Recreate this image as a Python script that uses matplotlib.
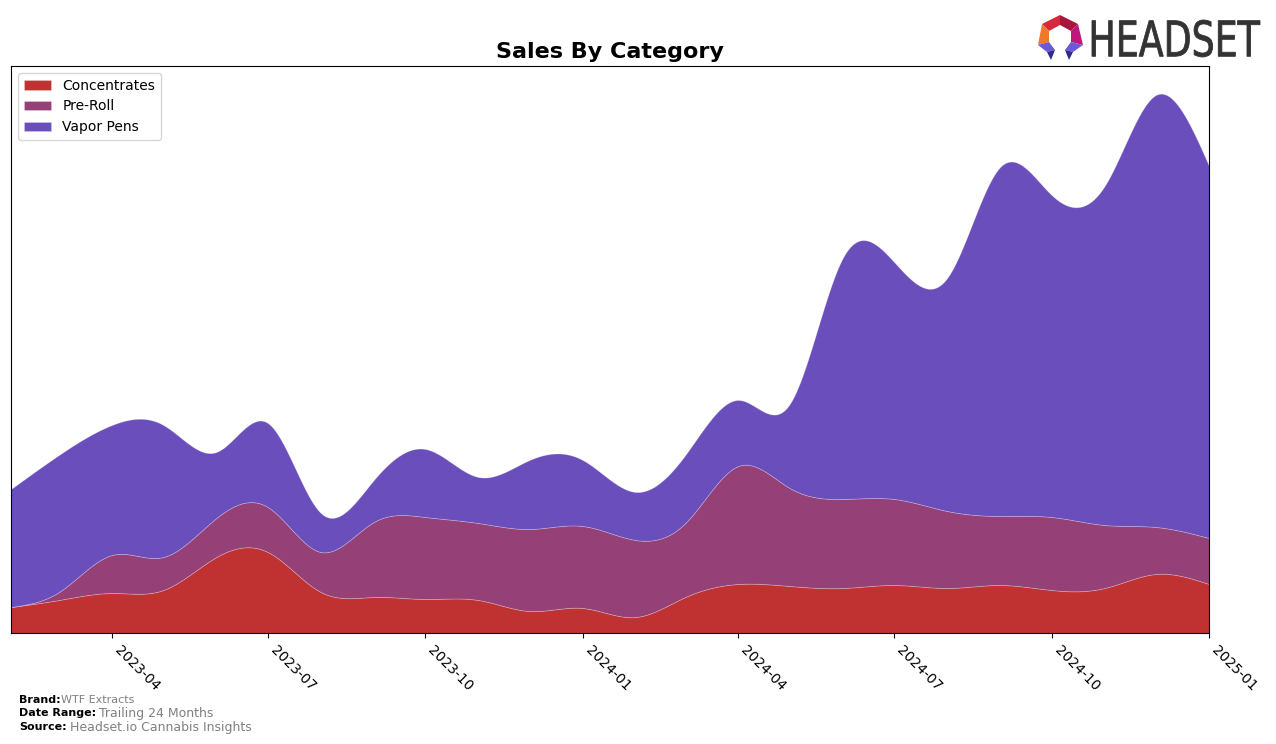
import numpy as np
import pandas as pd
import matplotlib
matplotlib.use("Agg")
import matplotlib.pyplot as plt
import matplotlib.dates as mdates
from matplotlib.textpath import TextPath
from matplotlib.patches import PathPatch, Polygon
from matplotlib.font_manager import FontProperties
from matplotlib.transforms import Affine2D

# ---------------- data ----------------
months = pd.date_range("2023-02-01", "2025-01-01", freq="MS")
concentrates = [26, 33, 40, 43, 76, 81, 41, 36, 34, 33, 22, 25, 16, 36, 49, 47, 45, 48, 45, 48, 43, 45, 59, 49]
preroll_top = [26, 41, 78, 76, 115, 126, 81, 111, 116, 110, 104, 107, 93, 110, 167, 145, 134, 134, 122, 117, 116, 108, 106, 95]
vapor_top = [144, 178, 208, 208, 181, 210, 120, 153, 184, 156, 173, 173, 141, 178, 233, 229, 375, 371, 355, 466, 438, 447, 538, 467]
pre_roll = [p - c for p, c in zip(preroll_top, concentrates)]
vapor_pens = [v - p for v, p in zip(vapor_top, preroll_top)]
labels = ["Concentrates", "Pre-Roll", "Vapor Pens"]
colors = ["#C03232", "#964078", "#6A4EBC"]


def natural_spline(x, y, xs):
    x = np.asarray(x, float)
    y = np.asarray(y, float)
    n = len(x)
    h = np.diff(x)
    A = np.zeros((n, n))
    b = np.zeros(n)
    A[0, 0] = 1
    A[-1, -1] = 1
    for i in range(1, n - 1):
        A[i, i - 1] = h[i - 1]
        A[i, i] = 2 * (h[i - 1] + h[i])
        A[i, i + 1] = h[i]
        b[i] = 3 * ((y[i + 1] - y[i]) / h[i] - (y[i] - y[i - 1]) / h[i - 1])
    c = np.linalg.solve(A, b)
    bb = np.zeros(n - 1)
    d = np.zeros(n - 1)
    for i in range(n - 1):
        bb[i] = (y[i + 1] - y[i]) / h[i] - h[i] * (2 * c[i] + c[i + 1]) / 3
        d[i] = (c[i + 1] - c[i]) / (3 * h[i])
    idx = np.clip(np.searchsorted(x, xs) - 1, 0, n - 2)
    dx = xs - x[idx]
    return y[idx] + bb[idx] * dx + c[idx] * dx ** 2 + d[idx] * dx ** 3


xnum = mdates.date2num(months.to_pydatetime())
xs = np.linspace(xnum[0], xnum[-1], 1500)
series = [np.clip(natural_spline(xnum, s, xs), 0, None) for s in (concentrates, pre_roll, vapor_pens)]

# ---------------- figure ----------------
W, H = 1276, 744
fig = plt.figure(figsize=(W / 100, H / 100), dpi=100)
ax = fig.add_axes([11 / W, 1 - 633 / H, (1209 - 11) / W, (633 - 66) / H])

polys = ax.stackplot(xs, *series, labels=labels, colors=colors)
for p in polys:
    p.set_edgecolor((1, 1, 1, 0.25))
    p.set_linewidth(0.6)

ax.set_xlim(xnum[0], xnum[-1])
ax.set_ylim(0, 567)
ax.set_yticks([])
ticks = pd.date_range("2023-04-01", "2025-01-01", freq="3MS")
ax.set_xticks(mdates.date2num(ticks.to_pydatetime()))
ax.set_xticklabels([t.strftime("%Y-%m") for t in ticks], rotation=-45, ha="left", fontsize=10)
ax.set_title("Sales By Category", fontsize=16, fontweight="bold", pad=6)
ax.legend(loc="upper left", fontsize=10, borderaxespad=0.5)

# footer
fig.text(19 / W, 1 - 700 / H, "Brand:", fontsize=8, fontweight="bold", va="center")
fig.text(61 / W, 1 - 700 / H, "WTF Extracts", fontsize=8, color="gray", va="center")
fig.text(19 / W, 1 - 713 / H, "Date Range:", fontsize=8, fontweight="bold", va="center")
fig.text(99 / W, 1 - 713 / H, "Trailing 24 Months", fontsize=9, color="gray", va="center")
fig.text(19 / W, 1 - 727 / H, "Source:", fontsize=8, fontweight="bold", va="center")
fig.text(70 / W, 1 - 727 / H, "Headset.io Cannabis Insights", fontsize=9, color="gray", va="center")

# logo text
tp = TextPath((0, 0), "HEADSET", size=50, prop=FontProperties(family="DejaVu Sans"))
ext = tp.get_extents()
x0, x1 = 1092, 1260
y0, y1 = H - 57, H - 20
sx = (x1 - x0) / ext.width
sy = (y1 - y0) / ext.height
tr = Affine2D().translate(-ext.x0, -ext.y0).scale(sx, sy).translate(x0, y0).scale(1 / W, 1 / H)
fig.patches.append(PathPatch(tr.transform_path(tp), facecolor="#333333", edgecolor="#333333",
                             linewidth=0.6, transform=fig.transFigure))


def poly(pts, color):
    pts = [(px / W, 1 - py / H) for px, py in pts]
    fig.patches.append(Polygon(pts, closed=True, facecolor=color, edgecolor="none",
                               transform=fig.transFigure))


poly([(1042, 24), (1060, 15), (1060, 25), (1049, 31)], "#D42A3C")
poly([(1060, 15), (1078, 24), (1071, 31), (1060, 25)], "#A8163E")
poly([(1042, 24), (1049, 31), (1049, 42), (1038, 45)], "#F0782A")
poly([(1078, 24), (1083, 45), (1071, 42), (1071, 31)], "#C0187A")
poly([(1038, 45), (1049, 42), (1055, 50), (1047, 52)], "#6A5AD8")
poly([(1047, 52), (1055, 50), (1051, 60)], "#2E2A8C")
poly([(1083, 45), (1071, 42), (1065, 50), (1073, 52)], "#6A5AD8")
poly([(1073, 52), (1065, 50), (1069, 60)], "#2E2A8C")

fig.savefig("out.png", dpi=100)
